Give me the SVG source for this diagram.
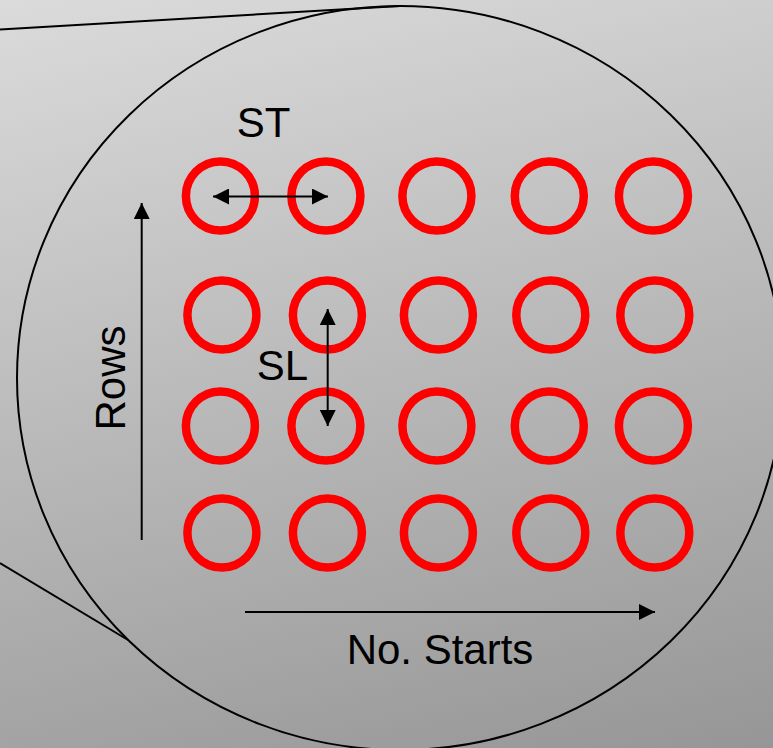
<svg xmlns="http://www.w3.org/2000/svg" width="773" height="748" viewBox="0 0 773 748">
<defs>
<linearGradient id="bg" gradientUnits="userSpaceOnUse" x1="0" y1="0" x2="201" y2="879">
<stop offset="0" stop-color="#dbdbdb"/>
<stop offset="1" stop-color="#969696"/>
</linearGradient>
<marker id="ah" markerUnits="userSpaceOnUse" markerWidth="16" markerHeight="16" refX="16" refY="8" orient="auto-start-reverse" viewBox="0 0 16 16">
<path d="M0,0 L16,8 L0,16 z" fill="#000"/>
</marker>
</defs>
<style>
.tube{fill:none;stroke:#ff0000;stroke-width:8.5}
.ln{fill:none;stroke:#000;stroke-width:2}
.arr{fill:none;stroke:#000;stroke-width:2}
.lbl{font-family:"Liberation Sans",Arial,sans-serif;font-size:42px;fill:#000;text-anchor:middle}
</style>
<rect x="0" y="0" width="773" height="748" fill="url(#bg)"/>
<g id="outline">
<ellipse cx="400" cy="378" rx="383" ry="372" class="ln"/>
<line x1="0" y1="29.5" x2="400" y2="6" class="ln"/>
<line x1="0" y1="563" x2="128" y2="640" class="ln"/>
</g>
<g id="tubes">
<g id="row1">
<circle cx="220.4" cy="196" r="34.5" class="tube"/>
<circle cx="325.9" cy="196" r="34.5" class="tube"/>
<circle cx="436.9" cy="196" r="34.5" class="tube"/>
<circle cx="549.3" cy="196" r="34.5" class="tube"/>
<circle cx="653.4" cy="196" r="34.5" class="tube"/>
</g>
<g id="row2">
<circle cx="221.9" cy="315" r="34.5" class="tube"/>
<circle cx="327.4" cy="315" r="34.5" class="tube"/>
<circle cx="438.4" cy="315" r="34.5" class="tube"/>
<circle cx="550.8" cy="315" r="34.5" class="tube"/>
<circle cx="654.8" cy="315" r="34.5" class="tube"/>
</g>
<g id="row3">
<circle cx="220.4" cy="426" r="34.5" class="tube"/>
<circle cx="325.9" cy="426" r="34.5" class="tube"/>
<circle cx="436.9" cy="426" r="34.5" class="tube"/>
<circle cx="549.3" cy="426" r="34.5" class="tube"/>
<circle cx="653.4" cy="426" r="34.5" class="tube"/>
</g>
<g id="row4">
<circle cx="221.9" cy="533" r="34.5" class="tube"/>
<circle cx="327.4" cy="533" r="34.5" class="tube"/>
<circle cx="438.4" cy="533" r="34.5" class="tube"/>
<circle cx="550.8" cy="533" r="34.5" class="tube"/>
<circle cx="654.8" cy="533" r="34.5" class="tube"/>
</g>
</g>
<g id="connectors">
<line x1="213" y1="196.5" x2="328" y2="196.5" class="arr" marker-start="url(#ah)" marker-end="url(#ah)"/>
<line x1="327.7" y1="309" x2="327.7" y2="426" class="arr" marker-start="url(#ah)" marker-end="url(#ah)"/>
<line x1="141.7" y1="540" x2="141.7" y2="203" class="arr" marker-end="url(#ah)"/>
<line x1="245" y1="612" x2="655" y2="612" class="arr" marker-end="url(#ah)"/>
</g>
<g id="labels">
<text class="lbl" x="263.5" y="136.5">ST</text>
<text class="lbl" x="282.5" y="380">SL</text>
<text class="lbl" transform="translate(125,378) rotate(-90)">Rows</text>
<text class="lbl" x="440" y="664">No. Starts</text>
</g>
</svg>
